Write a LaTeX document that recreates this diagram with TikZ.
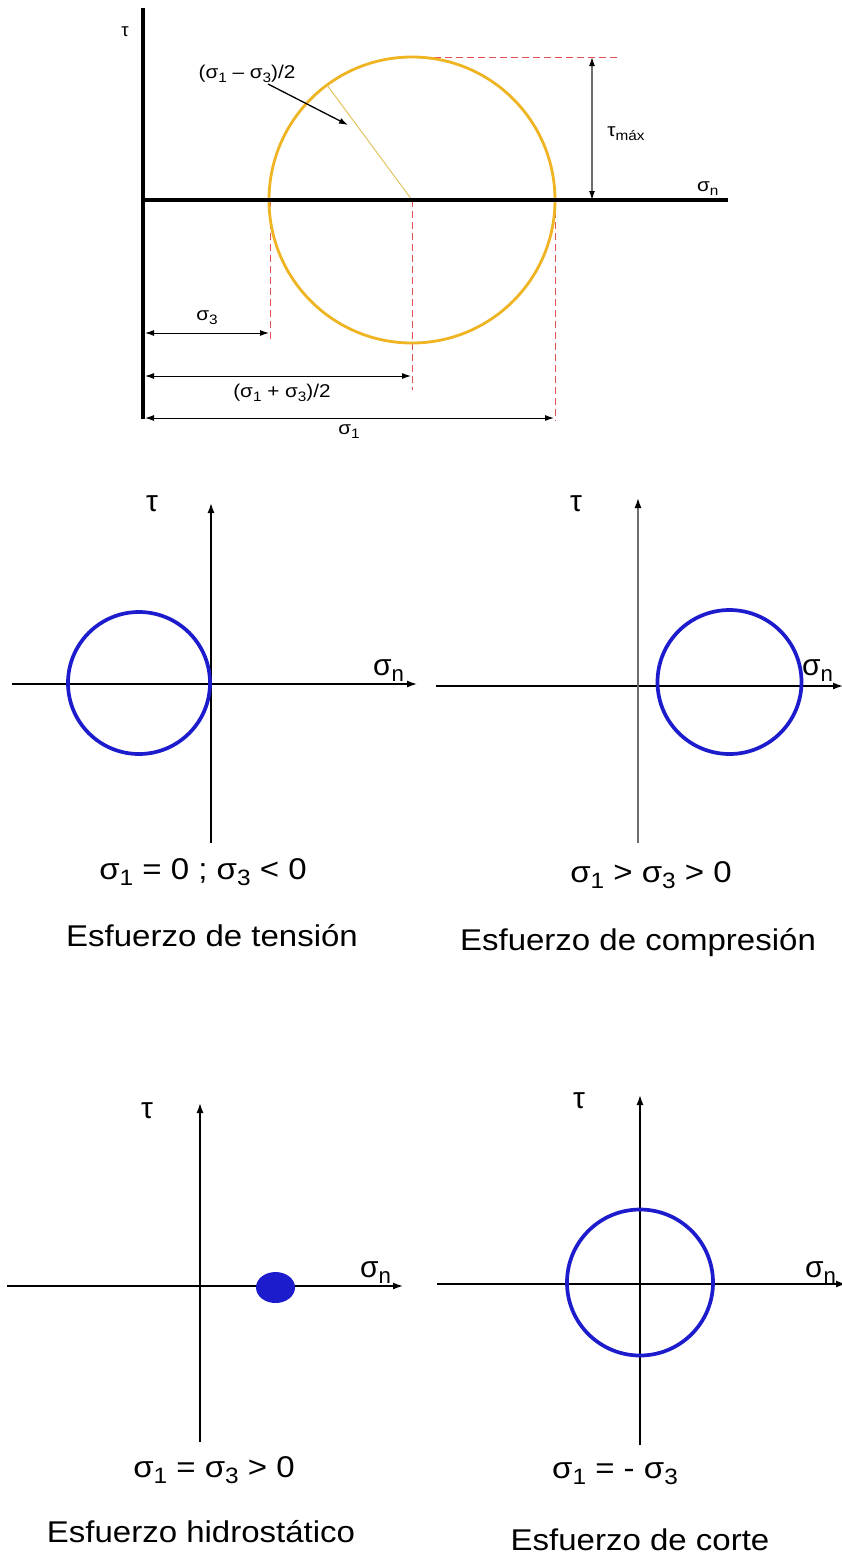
\documentclass[tikz,border=0pt]{standalone}
\usepackage{fontspec}
\setmainfont{Liberation Sans}
\usetikzlibrary{arrows.meta}
\definecolor{ocirc}{RGB}{238,180,34}
\definecolor{oradius}{RGB}{226,196,96}
\definecolor{dred}{RGB}{225,80,80}
\definecolor{bblue}{RGB}{28,28,205}
\definecolor{gax}{RGB}{110,110,110}
\newcommand\sbx[1]{\raisebox{-0.22em}{\scalebox{0.74}{#1}}}
\newcommand\wdx[1]{\scalebox{1.1}[1]{#1}}
\newcommand\wdy[1]{\scalebox{1.12}[1]{#1}}
\tikzset{
  thickax/.style={line width=3.2pt, draw=black},
  thinax/.style={line width=1.4pt, draw=black, -{Latex[length=10pt,width=7pt]}},
  dashred/.style={draw=dred, line width=1pt, dash pattern=on 7pt off 4pt},
  dimarrow/.style={line width=1pt, {Latex[length=9pt,width=6pt]}-{Latex[length=9pt,width=6pt]}},
  bluecirc/.style={draw=bblue, line width=3.7pt},
  smalllbl/.style={inner sep=0pt, font=\fontsize{18.5}{22}\selectfont},
  biglbl/.style={inner sep=0pt, font=\fontsize{30}{36}\selectfont},
}
\begin{document}
\begin{tikzpicture}[x=1pt,y=-1pt]
\useasboundingbox[fill=white] (0,0) rectangle (841,1556);

% ---------------- top diagram ----------------
\coordinate (Vtop) at (143,8);
\coordinate (Vbot) at (143,419);
\coordinate (O) at (143,200);
\coordinate (Hend) at (728,200);
\coordinate (C) at (412,200);
\coordinate (Rp) at (327,85);
\coordinate (L3) at (270,200);
\coordinate (R1) at (555,200);
\coordinate (Ctop) at (412,57);
\coordinate (Dend) at (620,57);
\coordinate (L3b) at (270,342);
\coordinate (Cb) at (412,390);
\coordinate (R1b) at (555,421);
\coordinate (Tt) at (592,57);
\coordinate (Tb) at (592,200);

\draw[dashred] (Ctop) -- (Dend);
\draw[dashred] (L3) -- (L3b);
\draw[dashred] (C) -- (Cb);
\draw[dashred] (R1) -- (R1b);
\draw[ocirc, line width=2.8pt] (C) circle[radius=143];
\draw[oradius, line width=1pt] (C) -- (Rp);
\draw[thickax] (Vtop) -- (Vbot);
\draw[thickax] (O) -- (Hend);
\draw[draw=gax, line width=1.3pt, {Latex[length=9pt,width=6pt,color=black]}-{Latex[length=9pt,width=6pt,color=black]}] (Tt) -- (Tb);

\coordinate (d3a) at (145,333); \coordinate (d3b) at (269,333);
\coordinate (dma) at (145,376); \coordinate (dmb) at (411,376);
\coordinate (d1a) at (145,418); \coordinate (d1b) at (554,418);
\draw[dimarrow] (d3a) -- (d3b);
\draw[dimarrow] (dma) -- (dmb);
\draw[dimarrow] (d1a) -- (d1b);

\node[smalllbl] (tau0) at (125,32) {τ};
\node[smalllbl] (rlbl) at (247,74) {\wdy{(σ\sbx{1} – σ\sbx{3})/2}};
\coordinate (la) at (268,84);
\coordinate (lb) at (348,125);
\draw[line width=1.3pt, -{Latex[length=9pt,width=6pt]}] (la) -- (lb);
\node[smalllbl] (tmax) at (626,134) {\wdy{τ\sbx{máx}}};
\node[smalllbl, anchor=base west] (sn0) at (697,191) {\wdy{σ\sbx{n}}};
\node[smalllbl] (s3) at (207,318) {\wdy{σ\sbx{3}}};
\node[smalllbl] (smid) at (282,393) {\wdy{(σ\sbx{1} + σ\sbx{3})/2}};
\node[smalllbl] (s1) at (349,432) {\wdy{σ\sbx{1}}};

% ---------------- middle left ----------------
\coordinate (mlh0) at (12,684); \coordinate (mlh1) at (417,684);
\coordinate (mlv0) at (211,843); \coordinate (mlv1) at (211,503);
\draw[thinax] (mlh0) -- (mlh1);
\draw[thinax] (mlv0) -- (mlv1);
\draw[bluecirc] (139,683) circle[radius=71];
\node[biglbl] (ml-tau) at (152,504) {τ};
\node[biglbl, anchor=base west] (ml-sn) at (373,675) {σ\sbx{n}};
\node[biglbl, anchor=base] (ml-f) at (203,879) {\wdx{σ\sbx{1} = 0 ; σ\sbx{3} < 0}};
\node[biglbl, anchor=base] (ml-c) at (212,946) {\wdx{Esfuerzo de tensión}};

% ---------------- middle right ----------------
\coordinate (mrh0) at (436,686); \coordinate (mrh1) at (843,686);
\coordinate (mrv0) at (638,843); \coordinate (mrv1) at (638,498);
\draw[thinax] (mrh0) -- (mrh1);
\draw[thinax, draw=gax, -{Latex[length=10pt,width=7pt,color=black]}] (mrv0) -- (mrv1);
\draw[bluecirc] (729.5,682) circle[radius=72];
\node[biglbl] (mr-tau) at (576,504) {τ};
\node[biglbl, anchor=base west] (mr-sn) at (802,675) {σ\sbx{n}};
\node[biglbl, anchor=base] (mr-f) at (651,882) {\wdx{σ\sbx{1} > σ\sbx{3} > 0}};
\node[biglbl, anchor=base] (mr-c) at (638,950) {\wdx{Esfuerzo de compresión}};

% ---------------- bottom left ----------------
\coordinate (blh0) at (7,1286); \coordinate (blh1) at (403,1286);
\coordinate (blv0) at (200,1442); \coordinate (blv1) at (200,1103);
\draw[thinax] (blh0) -- (blh1);
\draw[thinax] (blv0) -- (blv1);
\fill[bblue] (275.5,1287.5) ellipse[x radius=19.5, y radius=15.5];
\node[biglbl] (bl-tau) at (147,1111) {τ};
\node[biglbl, anchor=base west] (bl-sn) at (360,1277) {σ\sbx{n}};
\node[biglbl, anchor=base] (bl-f) at (214,1477) {\wdx{σ\sbx{1} = σ\sbx{3} > 0}};
\node[biglbl, anchor=base] (bl-c) at (201,1542) {\wdx{Esfuerzo hidrostático}};

% ---------------- bottom right ----------------
\coordinate (brh0) at (437,1284); \coordinate (brh1) at (846,1284);
\coordinate (brv0) at (640,1445); \coordinate (brv1) at (640,1095);
\draw[thinax] (brh0) -- (brh1);
\draw[thinax] (brv0) -- (brv1);
\draw[bluecirc] (640,1282.5) circle[radius=73];
\node[biglbl] (br-tau) at (579,1101) {τ};
\node[biglbl, anchor=base west] (br-sn) at (805,1277) {σ\sbx{n}};
\node[biglbl, anchor=base] (br-f) at (615,1478) {\wdx{σ\sbx{1} = - σ\sbx{3}}};
\node[biglbl, anchor=base] (br-c) at (640,1550) {\wdx{Esfuerzo de corte}};
\end{tikzpicture}
\end{document}
